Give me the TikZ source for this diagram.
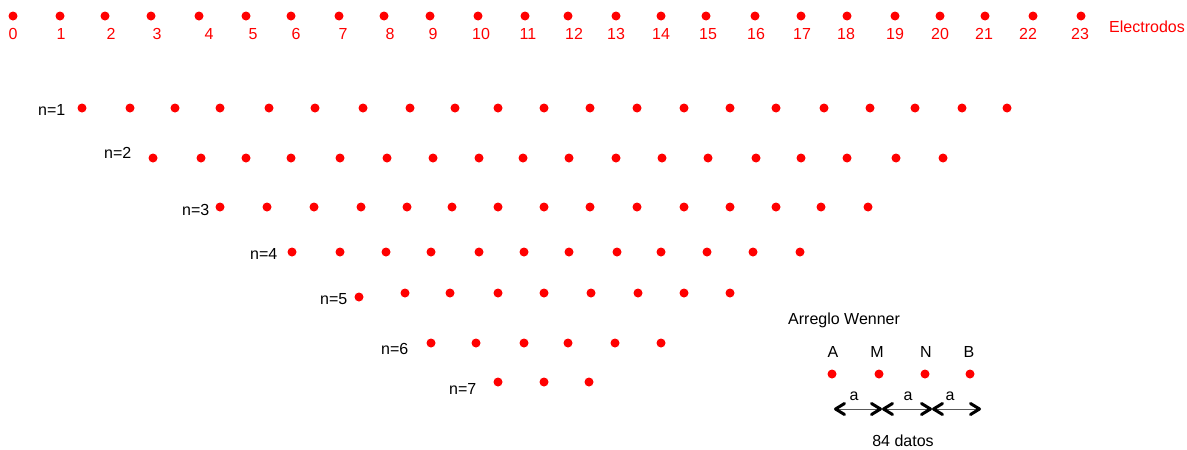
\documentclass[tikz,border=0pt]{standalone}
\usepackage{fontspec}
\setmainfont{Liberation Sans}
\usetikzlibrary{arrows.meta}
\definecolor{rd}{RGB}{255,0,0}
\begin{document}
\begin{tikzpicture}[x=1pt,y=-1pt,
  dot/.style={circle,fill=rd,draw=none,minimum size=9pt,inner sep=0pt},
  rlab/.style={text=rd,font=\fontsize{16}{18}\selectfont,anchor=base,inner sep=0pt},
  blab/.style={text=black,font=\fontsize{16}{18}\selectfont,anchor=base,inner sep=0pt},
  nlab/.style={blab,anchor=base west},
  wline/.style={draw=black!65,line width=1pt,
    {Straight Barb[black,length=9pt,width=11pt,line width=3pt,round]}-{Straight Barb[black,length=9pt,width=11pt,line width=3pt,round]}}]
\useasboundingbox (0,0) rectangle (1187,450);
% electrodes
\foreach \x/\lx [count=\i from 0] in {13/13,60/61,105/111,151/157,199/209,246/253,291/296,339/343,384/390,430/433,478/481,525/528,568/574,616/616,661/661,706/708,755/756,801/802,847/846,895/895,940/940,985/984,1033/1028,1081/1080}{
  \node[dot] (e\i) at (\x,16) {};
  \node[rlab] (el\i) at (\lx,39) {\i};
}
\node[rlab,anchor=base west] (elec) at (1109,32) {Electrodos};
% rows
\node[nlab] (l1) at (38,115) {n=1};
\foreach \x [count=\i] in {82,130,175,220,269,315,363,410,455,498,544,590,637,684,730,776,824,870,915,962,1007}
  \node[dot] (a\i) at (\x,108) {};
\node[nlab] (l2) at (104,158) {n=2};
\foreach \x [count=\i] in {153,201,246,291,340,387,433,479,523,569,616,662,708,756,801,847,896,943}
  \node[dot] (b\i) at (\x,158) {};
\node[nlab] (l3) at (182,215) {n=3};
\foreach \x [count=\i] in {220,267,314,361,407,452,498,544,590,637,684,730,776,821,868}
  \node[dot] (c\i) at (\x,207) {};
\node[nlab] (l4) at (250,259) {n=4};
\foreach \x [count=\i] in {292,340,386,431,479,524,569,617,661,707,753,800}
  \node[dot] (d\i) at (\x,252) {};
\node[nlab] (l5) at (320,304) {n=5};
\node[dot] (f1) at (359,297) {};
\foreach \x [count=\i from 2] in {405,450,498,544,591,638,684,730}
  \node[dot] (f\i) at (\x,293) {};
\node[nlab] (l6) at (381,354) {n=6};
\foreach \x [count=\i] in {431,476,524,568,615,661}
  \node[dot] (g\i) at (\x,343) {};
\node[nlab] (l7) at (449,394) {n=7};
\foreach \x [count=\i] in {498,544,589}
  \node[dot] (h\i) at (\x,382) {};
% Wenner
\node[blab,anchor=base west] (wt) at (788,324) {Arreglo Wenner};
\foreach \x/\lx/\t [count=\i] in {832/833/A,879/877/M,925/926/N,970/969/B}{
  \node[blab] (wl\i) at (\lx,357) {\t};
  \node[dot] (wd\i) at (\x,374) {};
}
\coordinate (w0) at (834,409);
\coordinate (w1) at (882,409);
\coordinate (w2) at (932,409);
\coordinate (w3) at (981,409);
\draw[wline] (w0) -- (w1);
\draw[wline] (w1) -- (w2);
\draw[wline] (w2) -- (w3);
\node[blab] (a1l) at (854,400) {a};
\node[blab] (a2l) at (908,400) {a};
\node[blab] (a3l) at (950,400) {a};
\node[blab] (dat) at (903,446) {84 datos};
\end{tikzpicture}
\end{document}
